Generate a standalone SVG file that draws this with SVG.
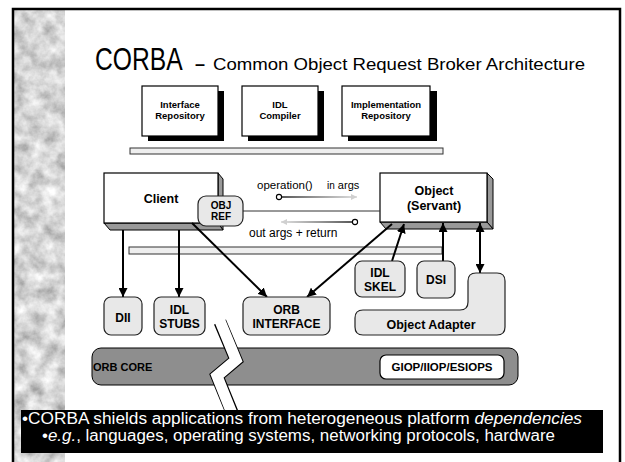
<svg xmlns="http://www.w3.org/2000/svg" width="625" height="462" viewBox="0 0 625 462">
<style>
text{font-family:"Liberation Sans",Arial,sans-serif;fill:#000}
.b{font-weight:bold}
.lbl{font-weight:bold;text-anchor:middle}
.top{fill:#fff;stroke:#000;stroke-width:1.2}
.sh{fill:#000}
.box{fill:#fff;stroke:#000;stroke-width:1.2}
.ext{fill:#999;stroke:#000;stroke-width:1;stroke-linejoin:round}
.rb{fill:#e8e8e8;stroke:#222;stroke-width:1.2}
.bar{fill:#eeeeee;stroke:#333;stroke-width:1}
.arr{stroke:#000;stroke-width:2;fill:none}
.thin{stroke:#333;stroke-width:1;fill:none}
.ban{fill:#fff;font-size:16px}
</style>
<defs>
<filter id="tex" x="0" y="0" width="100%" height="100%">
<feTurbulence type="fractalNoise" baseFrequency="0.07" numOctaves="4" seed="7"/>
<feColorMatrix type="matrix" values="0.9 0 0 0 0.22  0.9 0 0 0 0.22  0.9 0 0 0 0.22  0 0 0 0 1"/>
</filter>
<marker id="ah" viewBox="0 0 10 10" refX="10" refY="5" markerWidth="9" markerHeight="9" markerUnits="userSpaceOnUse" orient="auto-start-reverse">
<path d="M0,0 L10,5 L0,10 z" fill="#000"/>
</marker>
<marker id="gh" viewBox="0 0 10 10" refX="10" refY="5" markerWidth="7" markerHeight="6" markerUnits="userSpaceOnUse" orient="auto">
<path d="M0,0 L10,5 L0,10 z" fill="#d0d0d0"/>
</marker>
<linearGradient id="gr1" gradientUnits="userSpaceOnUse" x1="282" y1="0" x2="357" y2="0">
<stop offset="0" stop-color="#222"/><stop offset="1" stop-color="#d8d8d8"/>
</linearGradient>
<linearGradient id="gr2" gradientUnits="userSpaceOnUse" x1="352" y1="0" x2="281" y2="0">
<stop offset="0" stop-color="#222"/><stop offset="1" stop-color="#d8d8d8"/>
</linearGradient>
</defs>

<rect x="0" y="0" width="625" height="462" fill="#fff"/>
<g id="background">
<rect x="14" y="9" width="51" height="453" fill="#bbb" filter="url(#tex)"/>
<rect x="13" y="9" width="607" height="470" fill="none" stroke="#000" stroke-width="2.5"/>
</g>

<g id="title">
<text transform="translate(95,70) scale(0.77,1)" x="0" y="0" font-size="32">CORBA</text>
<text x="195" y="70" font-size="18" font-weight="bold">–</text>
<text x="213" y="70" font-size="17" textLength="372" lengthAdjust="spacingAndGlyphs">Common Object Request Broker Architecture</text>
</g>

<g id="interface-repository">
<rect class="sh" x="148" y="91" width="76" height="50"/>
<rect class="top" x="142" y="86" width="76" height="50"/>
<text class="lbl" x="180" y="108" font-size="9.5">Interface</text>
<text class="lbl" x="180" y="119" font-size="9.5">Repository</text>
</g>
<g id="idl-compiler">
<rect class="sh" x="248" y="91" width="76" height="50"/>
<rect class="top" x="242" y="86" width="76" height="50"/>
<text class="lbl" x="280" y="108" font-size="9.5">IDL</text>
<text class="lbl" x="280" y="119" font-size="9.5">Compiler</text>
</g>
<g id="implementation-repository">
<rect class="sh" x="348" y="91" width="89" height="50"/>
<rect class="top" x="342" y="86" width="88" height="50"/>
<text class="lbl" x="386" y="108" font-size="9.5">Implementation</text>
<text class="lbl" x="386" y="119" font-size="9.5">Repository</text>
</g>
<g id="bar-top"><rect class="bar" x="130" y="148" width="313" height="6"/></g>
<g id="bar-mid"><rect class="bar" x="129" y="247" width="313" height="7"/></g>

<g id="client">
<polygon class="ext" points="218,173 223,179 223,230 218,223"/>
<polygon class="ext" points="104,223 218,223 223,230 110,230"/>
<rect class="box" x="104" y="173" width="114" height="50"/>
<text class="lbl" x="161" y="203" font-size="12.5">Client</text>
</g>

<g id="object">
<polygon class="ext" points="487,173 493,179 493,229 487,222"/>
<polygon class="ext" points="380,222 487,222 493,229 386,229"/>
<rect class="box" x="380" y="173" width="107" height="49"/>
<text class="lbl" x="434" y="195" font-size="12.5">Object</text>
<text class="lbl" x="434" y="210" font-size="12.5">(Servant)</text>
</g>

<g id="connectors">
<line class="thin" x1="243" y1="211" x2="380" y2="211"/>
<line x1="282" y1="197" x2="357" y2="197" stroke="url(#gr1)" stroke-width="1.3" marker-end="url(#gh)"/>
<circle cx="279" cy="197" r="2.6" fill="#fff" stroke="#000" stroke-width="1.1"/>
<line x1="352" y1="222" x2="281" y2="222" stroke="url(#gr2)" stroke-width="1.3" marker-end="url(#gh)"/>
<circle cx="355" cy="222" r="2.6" fill="#fff" stroke="#000" stroke-width="1.1"/>
<line class="arr" x1="123" y1="230" x2="123" y2="297" marker-end="url(#ah)"/>
<line class="arr" x1="179" y1="230" x2="179" y2="297" marker-end="url(#ah)"/>
<line class="arr" x1="192" y1="223" x2="267" y2="297" marker-end="url(#ah)"/>
<line class="arr" x1="392" y1="224" x2="307" y2="297" marker-end="url(#ah)"/>
<line class="arr" x1="392" y1="261" x2="404" y2="224" marker-end="url(#ah)"/>
<line class="arr" x1="443" y1="261" x2="443" y2="223" marker-end="url(#ah)"/>
<line class="arr" x1="480" y1="223" x2="480" y2="273" marker-start="url(#ah)" marker-end="url(#ah)"/>
</g>

<g id="op-labels">
<text x="257" y="189" font-size="11.5">operation()</text>
<text x="327" y="189" font-size="11"><tspan font-size="10">in</tspan> args</text>
<text x="249" y="237" font-size="12">out args + return</text>
</g>

<g id="obj-ref">
<rect class="rb" x="198" y="196" width="45" height="30" rx="8"/>
<text class="lbl" x="221" y="209" font-size="10">OBJ</text>
<text class="lbl" x="221" y="220" font-size="10">REF</text>
</g>

<g id="dii">
<rect class="rb" x="104" y="297" width="38" height="38" rx="7"/>
<text class="lbl" x="123" y="322" font-size="12">DII</text>
</g>
<g id="idl-stubs">
<rect class="rb" x="154" y="297" width="51" height="38" rx="7"/>
<text class="lbl" x="179.5" y="314" font-size="12">IDL</text>
<text class="lbl" x="179.5" y="328" font-size="12">STUBS</text>
</g>
<g id="orb-interface">
<rect class="rb" x="243" y="297" width="87" height="38" rx="7"/>
<text class="lbl" x="286.5" y="314" font-size="12">ORB</text>
<text class="lbl" x="286.5" y="328" font-size="12">INTERFACE</text>
</g>
<g id="idl-skel">
<rect class="rb" x="355" y="261" width="50" height="36" rx="7"/>
<text class="lbl" x="380" y="277" font-size="12">IDL</text>
<text class="lbl" x="380" y="291" font-size="12">SKEL</text>
</g>
<g id="dsi">
<rect class="rb" x="417" y="261" width="38" height="37" rx="7"/>
<text class="lbl" x="436" y="284" font-size="12">DSI</text>
</g>
<g id="object-adapter">
<path class="rb" d="M363,310 H460 Q468,310 468,302 V281 Q468,273 476,273 H497 Q505,273 505,281 V327 Q505,335 497,335 H363 Q355,335 355,327 V318 Q355,310 363,310 Z"/>
<text class="lbl" x="431" y="329" font-size="12.5">Object Adapter</text>
</g>

<g id="orb-core">
<rect x="92" y="348" width="426" height="37" rx="9" fill="#8e8e8e" stroke="#000" stroke-width="1"/>
<text class="b" x="93" y="371" font-size="11">ORB CORE</text>
</g>
<g id="giop">
<rect x="380" y="355" width="124" height="24" rx="6" fill="#fff" stroke="#000" stroke-width="1.2"/>
<text class="lbl" x="442" y="371" font-size="11.5">GIOP/IIOP/ESIOPS</text>
</g>

<g id="bolt">
<polyline points="220,322 236,360 217,376 233,415" fill="none" stroke="#000" stroke-width="13" stroke-linejoin="miter" stroke-miterlimit="10"/>
<polyline points="220,321 236,360 217,376 233,416" fill="none" stroke="#fff" stroke-width="11" stroke-linejoin="miter" stroke-miterlimit="10"/>
</g>

<g id="banner">
<rect x="21" y="410" width="582" height="43" fill="#000"/>
<text class="ban" x="22" y="424" textLength="560" lengthAdjust="spacingAndGlyphs">•CORBA shields applications from heterogeneous platform <tspan font-style="italic">dependencies</tspan></text>
<text class="ban" x="42" y="441" textLength="513" lengthAdjust="spacingAndGlyphs">•<tspan font-style="italic">e.g.</tspan>, languages, operating systems, networking protocols, hardware</text>
</g>
</svg>
